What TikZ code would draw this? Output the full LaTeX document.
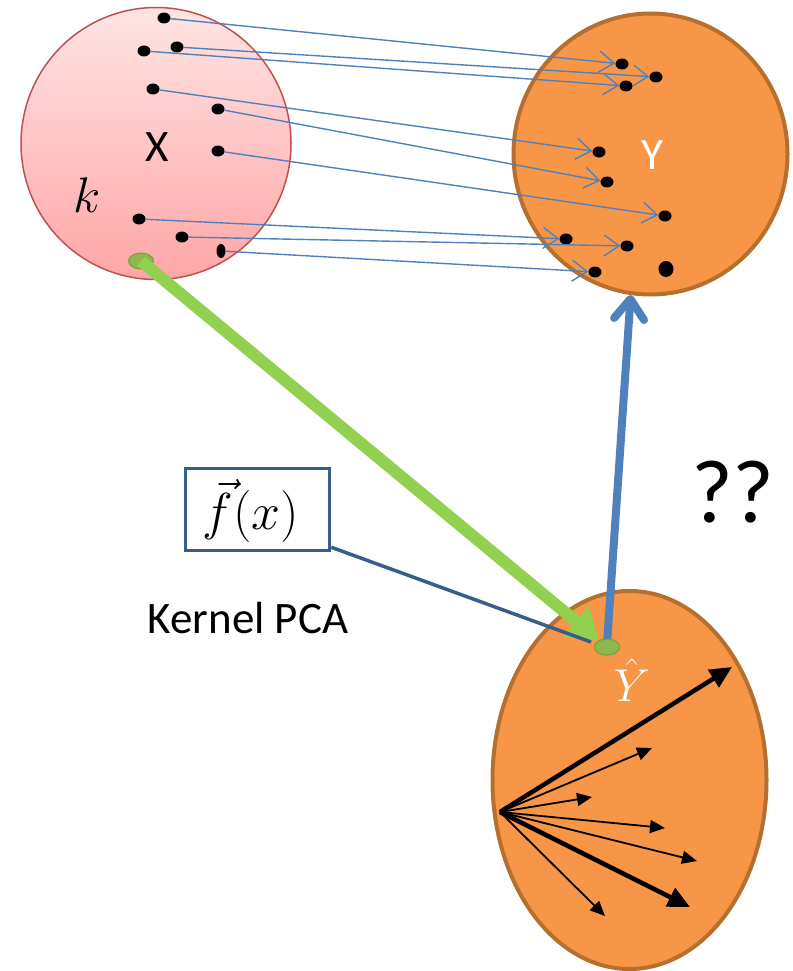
\RequirePackage{fix-cm}
\documentclass[tikz,border=0pt]{standalone}
\usepackage{fontspec}
\setmainfont{Carlito}
\usetikzlibrary{arrows.meta,shapes.geometric}

\definecolor{setred}{HTML}{C0504D}
\definecolor{pinktop}{RGB}{255,228,228}
\definecolor{pinkbot}{RGB}{255,166,166}
\definecolor{setorange}{HTML}{F79646}
\definecolor{setbrown}{HTML}{B5702F}
\definecolor{mapblue}{HTML}{4F81BD}
\definecolor{boxblue}{HTML}{385D8A}
\definecolor{limegreen}{HTML}{92D050}
\definecolor{dotgreen}{HTML}{8DB84E}
\definecolor{dotgreenrim}{HTML}{76A03C}

\tikzset{
  setx/.style={ellipse, draw=setred, line width=1.5pt,
    top color=pinktop, bottom color=pinkbot, inner sep=0pt},
  sety/.style={ellipse, draw=setbrown, line width=4pt, fill=setorange, inner sep=0pt},
  pt/.style={ellipse, fill=black, inner sep=0pt, minimum width=13pt, minimum height=11pt},
  gdot/.style={ellipse, fill=dotgreen, draw=dotgreenrim, line width=1pt, inner sep=0pt,
    minimum width=25pt, minimum height=16pt},
  maparrow/.style={draw=mapblue, line width=1.4pt,
    -{Straight Barb[length=15pt,width=21pt]}},
  vecthin/.style={line width=1.8pt, -{Triangle[length=15pt,width=13pt]}},
  vecthick/.style={line width=4.5pt, -{Triangle[length=22pt,width=20pt]}},
  lbl/.style={font=\fontsize{45}{50}\selectfont, inner sep=0pt},
}

\begin{document}
\begin{tikzpicture}[x=1pt,y=-1pt]
\useasboundingbox (0,0) rectangle (792,971);

% the three sets
\node[setx, minimum width=270pt, minimum height=272pt] (X) at (156,143.5) {};
\node[sety, minimum width=274pt, minimum height=281pt] (Y) at (650.5,154) {};
\node[sety, minimum width=274pt, minimum height=378pt] (Yh) at (629.5,780) {};

% set labels
\node[lbl] (xl) at (157,147) {X};
\node[lbl, text=white] (yl) at (652,155) {Y};
\node[inner sep=0pt, font=\fontsize{50}{54}\selectfont] (kl) at (87,195) {$k$};
\node[inner sep=0pt, text=white, font=\fontsize{46}{50}\selectfont] (yhl) at (632,680) {$\hat{Y}$};

% sample points of X
\node[pt] (x1) at (164,18) {};
\node[pt] (x2) at (144,51) {};
\node[pt] (x3) at (177,47) {};
\node[pt] (x4) at (153,89) {};
\node[pt] (x5) at (218,109) {};
\node[pt] (x6) at (218,151) {};
\node[pt] (x7) at (139,219) {};
\node[pt] (x8) at (182,237) {};
\node[pt, minimum width=9pt, minimum height=14pt] (x9) at (221,251) {};

% their images in Y
\node[pt] (y1) at (622,64) {};
\node[pt] (y2) at (656,77) {};
\node[pt] (y3) at (626,86) {};
\node[pt] (y4) at (599,152) {};
\node[pt] (y5) at (607,182) {};
\node[pt] (y6) at (665,216) {};
\node[pt] (y7) at (566,239) {};
\node[pt] (y8) at (627,246) {};
\node[pt] (y9) at (595,272) {};
\node[pt, minimum width=15pt, minimum height=16pt] (y10) at (666,269) {};

% the mapping X -> Y
\draw[maparrow] (x1) -- (y1);
\draw[maparrow] (x3) -- (y2);
\draw[maparrow] (x2) -- (y3);
\draw[maparrow] (x4) -- (y4);
\draw[maparrow] (x5) -- (y5);
\draw[maparrow] (x6) -- (y6);
\draw[maparrow] (x7) -- (y7);
\draw[maparrow] (x8) -- (y8);
\draw[maparrow] (x9) -- (y9);

% principal directions in the feature space
\coordinate (o) at (500,812);
\coordinate (v1) at (732,667);
\coordinate (v2) at (652,748);
\coordinate (v3) at (592,797);
\coordinate (v4) at (665,828);
\coordinate (v5) at (697,861);
\coordinate (v6) at (690,907);
\coordinate (v7) at (605,916);
\draw[vecthick] (o) -- (v1);
\draw[vecthin] (o) -- (v2);
\draw[vecthin] (o) -- (v3);
\draw[vecthin] (o) -- (v4);
\draw[vecthin] (o) -- (v5);
\draw[vecthick] (o) -- (v6);
\draw[vecthin] (o) -- (v7);

% the point k and its image
\node[gdot] (gx) at (141,261) {};
\node[gdot] (gy) at (607,647) {};
\draw[limegreen, line width=12pt, -{Triangle[length=30pt,width=38pt]}]
  (gx.center) -- (gy);
\draw[mapblue, line width=8pt,
  -{Straight Barb[round,length=20pt,width=30pt]}]
  ([yshift=3pt]gy.center) -- (Y.-98);
\node[gdot] at (gy) {};

% the kernel map
\node[draw=boxblue, line width=3.5pt, minimum width=144pt, minimum height=82pt,
  inner sep=0pt] (fb) at (257.5,509.5) {};
\node[inner sep=0pt, font=\fontsize{52}{56}\selectfont] (ft) at (251,511) {$\vec{f}(x)$};
\coordinate (kp) at (591,642);
\draw[boxblue, line width=3.5pt] ([yshift=5pt]fb.south east) -- (kp);
\node[lbl] (kpca) at (248,618) {Kernel PCA};

\node[inner sep=0pt, font=\fontsize{90}{96}\selectfont] (qq) at (733,492) {??};
\end{tikzpicture}
\end{document}
